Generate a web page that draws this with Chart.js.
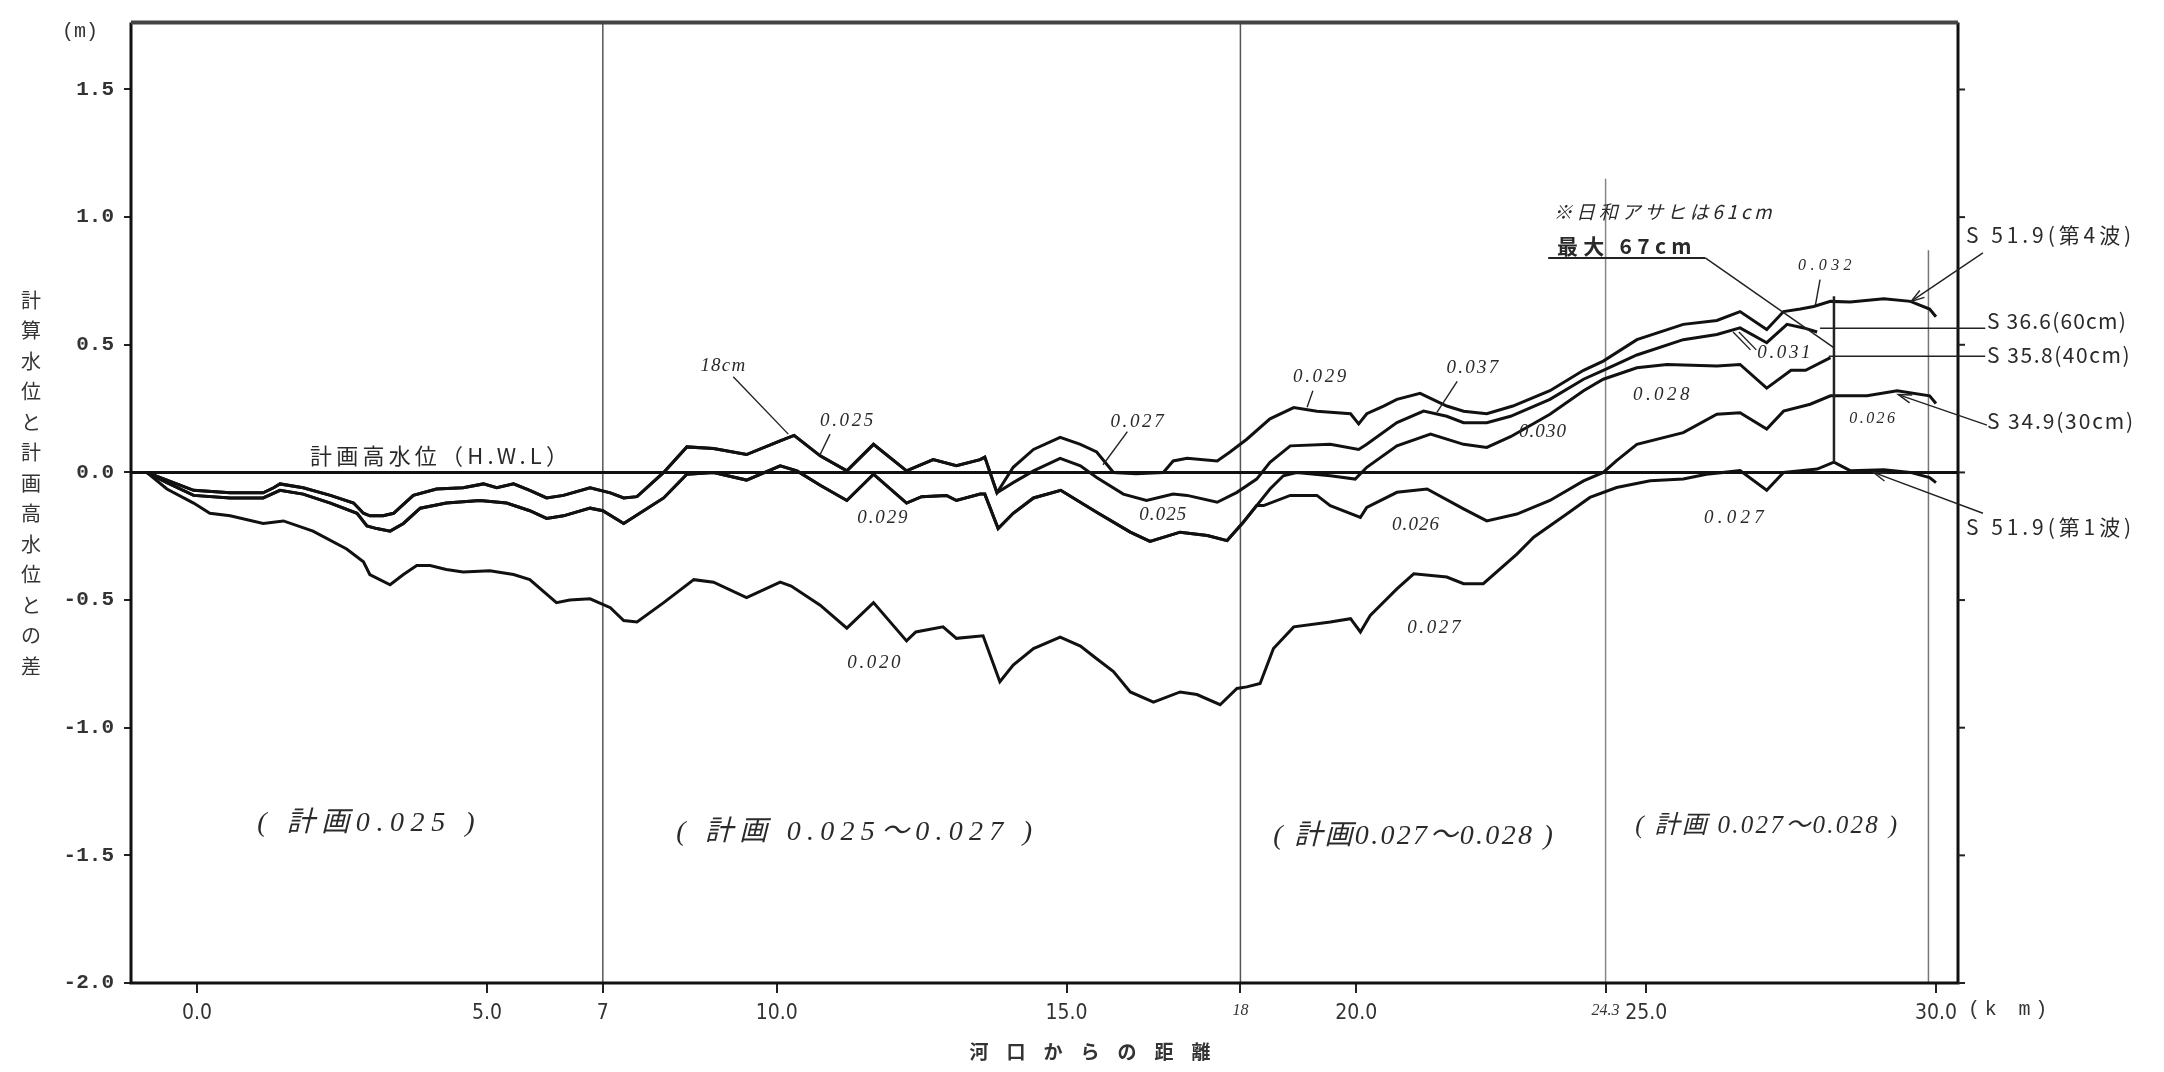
<!DOCTYPE html>
<html><head><meta charset="utf-8">
<script src="https://cdn.jsdelivr.net/npm/chart.js@4.4.1/dist/chart.umd.min.js"></script>
<style>html,body{margin:0;padding:0;background:#fff;}canvas{display:block;}</style>
</head><body>
<canvas id="c" width="2164" height="1072"></canvas>
<script>
// ---------------- DATA ----------------
const xTickValues = [0, 5, 7, 10, 15, 18, 20, 24.3, 25, 30];
const xTickLabels = ["0.0", "5.0", "7", "10.0", "15.0", "18", "20.0", "24.3", "25.0", "30.0"];
const yTickValues = [-2, -1.5, -1, -0.5, 0, 0.5, 1, 1.5];
const yTickLabels = ["-2.0", "-1.5", "-1.0", "-0.5", "0.0", "0.5", "1.0", "1.5"];
const seriesNames = ["S51.9(第4波)", "S36.6(60cm)", "S35.8(40cm)", "S34.9(30cm)", "S51.9(第1波)"];

// S51.9 (第4波)
const km4th = [-0.87,-0.52,-0.06,0.57,1.14,1.32,1.43,1.83,2.30,2.70,2.87,2.98,3.21,3.39,3.73,4.13,4.59,4.94,5.17,5.46,5.74,6.03,6.32,6.78,7.13,7.36,7.59,8.05,8.45,8.91,9.48,10.06,10.3,10.75,11.21,11.67,12.24,12.70,13.1,13.51,13.59,13.8,
  14.08,14.43,14.89,15.24,15.52,15.81,16.2,16.67,16.84,17.08,17.6,17.82,18.11,18.51,18.92,19.32,19.9,20.04,20.18,20.47,20.7,21.1,21.56,21.85,22.25,22.7,23.34,23.92,24.26,24.84,25.64,26.22,26.62,27.08,27.37,27.66,27.89,28.18,28.52,29.1,29.56,29.89,30.0];
const lv4th = [0,-0.03,-0.07,-0.08,-0.08,-0.06,-0.045,-0.06,-0.09,-0.12,-0.16,-0.17,-0.17,-0.16,-0.09,-0.065,-0.06,-0.045,-0.06,-0.045,-0.07,-0.10,-0.09,-0.06,-0.08,-0.10,-0.095,0.0,0.10,0.094,0.07,0.124,0.145,0.065,0.006,0.11,0.006,0.05,0.026,0.05,0.06,-0.08,
  0.02,0.09,0.137,0.11,0.08,0.0,-0.005,0.0,0.045,0.055,0.045,0.08,0.13,0.21,0.254,0.24,0.23,0.19,0.23,0.26,0.286,0.31,0.26,0.24,0.23,0.26,0.32,0.40,0.436,0.52,0.58,0.595,0.63,0.56,0.63,0.64,0.65,0.67,0.668,0.68,0.67,0.64,0.61];

// S36.6 (60cm)
const km60 = [-0.87,-0.52,-0.06,0.57,1.14,1.32,1.43,1.83,2.30,2.70,2.87,2.98,3.21,3.39,3.73,4.13,4.59,4.94,5.17,5.46,5.74,6.03,6.32,6.78,7.13,7.36,7.59,8.05,8.45,8.91,9.48,10.06,10.3,10.75,11.21,11.67,12.24,12.70,13.1,13.51,13.59,13.8,
  14.08,14.43,14.89,15.24,15.52,15.98,16.38,16.84,17.08,17.6,17.94,18.28,18.51,18.86,19.55,20.04,20.18,20.7,21.16,21.56,21.85,22.25,22.66,23.34,23.92,24.26,24.84,25.64,26.22,26.62,27.08,27.43,27.72,27.95];
const lv60 = [0,-0.03,-0.07,-0.08,-0.08,-0.06,-0.045,-0.06,-0.09,-0.12,-0.16,-0.17,-0.17,-0.16,-0.09,-0.065,-0.06,-0.045,-0.06,-0.045,-0.07,-0.10,-0.09,-0.06,-0.08,-0.10,-0.095,0.0,0.10,0.094,0.07,0.124,0.145,0.065,0.006,0.11,0.006,0.05,0.026,0.05,0.06,-0.08,
  -0.04,0.006,0.055,0.026,-0.02,-0.085,-0.11,-0.085,-0.09,-0.117,-0.078,-0.026,0.04,0.104,0.11,0.09,0.11,0.195,0.24,0.22,0.195,0.195,0.22,0.286,0.365,0.40,0.46,0.52,0.54,0.566,0.508,0.58,0.566,0.55];

// S35.8 (40cm)
const km40 = [-0.87,-0.52,-0.06,0.57,1.14,1.43,1.83,2.30,2.76,2.93,3.10,3.33,3.56,3.85,4.30,4.88,5.34,5.74,6.03,6.32,6.78,7.0,7.36,8.05,8.45,8.91,9.48,10.06,10.35,10.75,11.21,11.67,12.24,12.5,12.93,13.1,13.51,13.59,13.82,14.08,14.43,14.9,15.52,16.1,16.44,16.96,17.43,17.77,18.05,18.28,
  18.51,18.74,18.97,19.55,19.98,20.18,20.7,21.28,21.85,22.25,22.66,23.34,23.92,24.26,24.84,25.36,26.22,26.62,27.08,27.5,27.75,28.18];
const lv40 = [0,-0.04,-0.09,-0.10,-0.10,-0.07,-0.085,-0.12,-0.16,-0.21,-0.22,-0.23,-0.20,-0.14,-0.12,-0.11,-0.12,-0.15,-0.18,-0.17,-0.14,-0.15,-0.20,-0.10,-0.007,0.0,-0.03,0.026,0.006,-0.05,-0.11,-0.007,-0.12,-0.095,-0.09,-0.11,-0.085,-0.085,-0.22,-0.16,-0.10,-0.07,-0.156,-0.234,-0.27,-0.234,-0.247,-0.267,-0.195,-0.13,
  -0.065,-0.013,0.0,-0.013,-0.026,0.02,0.104,0.15,0.11,0.098,0.14,0.228,0.32,0.365,0.41,0.423,0.417,0.423,0.33,0.40,0.40,0.45];

// S34.9 (30cm)
const km30 = [-0.87,-0.52,-0.06,0.57,1.14,1.43,1.83,2.30,2.76,2.93,3.10,3.33,3.56,3.85,4.30,4.88,5.34,5.74,6.03,6.32,6.78,7.0,7.36,8.05,8.45,8.91,9.48,10.06,10.35,10.75,11.21,11.67,12.24,12.5,12.93,13.1,13.51,13.59,13.82,14.08,14.43,14.9,15.52,16.1,16.44,16.96,17.43,17.77,18.05,18.28,
  18.4,18.86,19.32,19.55,20.07,20.18,20.7,21.22,21.85,22.25,22.77,23.34,23.92,24.26,24.49,24.84,25.64,26.22,26.62,27.08,27.37,27.83,28.18,28.81,29.33,29.89,30.0];
const lv30 = [0,-0.04,-0.09,-0.10,-0.10,-0.07,-0.085,-0.12,-0.16,-0.21,-0.22,-0.23,-0.20,-0.14,-0.12,-0.11,-0.12,-0.15,-0.18,-0.17,-0.14,-0.15,-0.20,-0.10,-0.007,0.0,-0.03,0.026,0.006,-0.05,-0.11,-0.007,-0.12,-0.095,-0.09,-0.11,-0.085,-0.085,-0.22,-0.16,-0.10,-0.07,-0.156,-0.234,-0.27,-0.234,-0.247,-0.267,-0.195,-0.13,
  -0.13,-0.09,-0.09,-0.13,-0.176,-0.137,-0.078,-0.065,-0.143,-0.19,-0.163,-0.11,-0.033,0.0,0.046,0.11,0.156,0.228,0.234,0.17,0.24,0.267,0.30,0.30,0.32,0.30,0.27];

// S51.9 (第1波)
const km1st = [-0.87,-0.52,-0.06,0.22,0.57,1.14,1.49,2.0,2.58,2.87,2.98,3.33,3.56,3.79,4.02,4.3,4.59,5.05,5.46,5.74,6.2,6.43,6.78,7.13,7.36,7.59,8.05,8.57,8.91,9.48,10.06,10.25,10.75,11.21,11.67,12.24,12.4,12.87,13.1,13.56,13.85,14.08,14.43,14.89,15.24,15.52,15.81,16.1,16.5,16.96,17.25,17.65,17.94,18.11,18.34,18.57,18.92,19.55,19.9,20.07,20.24,20.7,20.99,21.56,21.85,22.19,22.77,23.06,23.63,24.03,24.49,25.07,25.64,26.04,26.62,27.08,27.37,27.66,27.95,28.24,28.52,29.1,29.56,29.89,30.0];
const lv1st = [0,-0.065,-0.12,-0.16,-0.17,-0.20,-0.19,-0.23,-0.30,-0.35,-0.40,-0.44,-0.40,-0.365,-0.365,-0.38,-0.39,-0.385,-0.40,-0.42,-0.51,-0.50,-0.495,-0.53,-0.58,-0.586,-0.51,-0.42,-0.43,-0.49,-0.43,-0.445,-0.52,-0.61,-0.51,-0.66,-0.625,-0.605,-0.65,-0.64,-0.82,-0.755,-0.69,-0.645,-0.68,-0.73,-0.78,-0.86,-0.90,-0.86,-0.87,-0.91,-0.846,-0.84,-0.827,-0.69,-0.605,-0.586,-0.573,-0.625,-0.56,-0.456,-0.397,-0.41,-0.436,-0.436,-0.32,-0.254,-0.163,-0.098,-0.059,-0.033,-0.026,-0.007,0.007,-0.07,0.0,0.007,0.013,0.04,0.007,0.01,0.0,-0.02,-0.04];

// 計画高水位 (H.W.L) reference line
const hwlKm = [-1.14, 30.45];
const hwlVal = [0, 0];

// ---------------- LAYOUT / ANNOTATIONS ----------------
const X_MIN = -1.14, X_MAX = 30.38, Y_MIN = -2.0, Y_MAX = 1.762;
const HAND = 'italic 19px "Liberation Serif", "DejaVu Serif", serif';
const notes = [
  {t:'計画高水位（H.W.L）', km:1.95, v:0.066, w:262, align:'left', font:'22px "Noto Sans CJK JP"'},
  {t:'18cm', km:9.08, v:0.418, w:46},
  {t:'0.025', km:11.23, v:0.20, w:56},
  {t:'0.029', km:11.84, v:-0.18, w:52},
  {t:'0.020', km:11.7, v:-0.746, w:56},
  {t:'0.027', km:16.24, v:0.199, w:56},
  {t:'0.025', km:16.67, v:-0.168, w:48},
  {t:'0.029', km:19.39, v:0.373, w:56},
  {t:'0.037', km:22.02, v:0.408, w:54},
  {t:'0.026', km:21.03, v:-0.207, w:48},
  {t:'0.027', km:21.36, v:-0.61, w:56},
  {t:'※日和アサヒは61cm', km:23.4, v:1.02, w:222, align:'left', font:'italic 19px "Noto Sans CJK JP"'},
  {t:'最大 67cm', km:23.46, v:0.885, w:140, align:'left', font:'bold 21px "Noto Sans CJK JP"'},
  {t:'0.032', km:28.12, v:0.81, w:58, font:'italic 16px "Liberation Serif"'},
  {t:'0.031', km:27.4, v:0.466, w:56},
  {t:'0.028', km:25.29, v:0.305, w:60},
  {t:'0.030', km:23.22, v:0.16, w:48},
  {t:'0.026', km:28.92, v:0.21, w:48, font:'italic 16px "Liberation Serif"'},
  {t:'0.027', km:26.55, v:-0.178, w:64},
  {t:'( 計画0.025 )', km:2.97, v:-1.377, w:224, font:'italic 28px "Liberation Serif", "Noto Sans CJK JP"'},
  {t:'( 計画 0.025～0.027 )', km:11.39, v:-1.41, w:362, font:'italic 28px "Liberation Serif", "Noto Sans CJK JP"'},
  {t:'( 計画0.027～0.028 )', km:21.0, v:-1.426, w:282, font:'italic 28px "Liberation Serif", "Noto Sans CJK JP"'},
  {t:'( 計画 0.027～0.028 )', km:27.09, v:-1.388, w:264, font:'italic 25px "Liberation Serif", "Noto Sans CJK JP"'},
  {t:'S 51.9(第4波)', km:30.52, v:0.93, w:169, align:'left', font:'21px "Noto Sans CJK JP"'},
  {t:'S 36.6(60cm)', km:30.88, v:0.595, w:140, align:'left', font:'21px "Noto Sans CJK JP"'},
  {t:'S 35.8(40cm)', km:30.88, v:0.459, w:144, align:'left', font:'21px "Noto Sans CJK JP"'},
  {t:'S 34.9(30cm)', km:30.88, v:0.20, w:148, align:'left', font:'21px "Noto Sans CJK JP"'},
  {t:'S 51.9(第1波)', km:30.52, v:-0.215, w:169, align:'left', font:'21px "Noto Sans CJK JP"'}
];
const leaders = [
  {a:[9.25,0.375,10.2,0.15]},
  {a:[10.92,0.15,10.75,0.07]},
  {a:[16.05,0.16,15.63,0.03]},
  {a:[19.25,0.32,19.15,0.255]},
  {a:[21.74,0.357,21.39,0.235]},
  {a:[28.0,0.755,27.92,0.655]},
  {a:[26.5,0.55,26.8,0.48]},
  {a:[26.6,0.55,26.9,0.48]},
  {a:[23.31,0.84,26.02,0.84], w:2},
  {a:[26.02,0.84,28.23,0.49], w:1.5},
  {a:[28.24,0.04,28.24,0.69], w:2.5},
  {a:[30.81,0.86,29.57,0.67], arrow:true},
  {a:[28.0,0.565,30.85,0.565]},
  {a:[28.15,0.455,30.85,0.455]},
  {a:[30.88,0.185,29.35,0.305], arrow:true},
  {a:[30.81,-0.16,28.92,0.0], arrow:true}
];
const refLines = [
  {km:7, from:Y_MAX, to:Y_MIN, c:'#555'},
  {km:18, from:Y_MAX, to:Y_MIN, c:'#555'},
  {km:24.3, from:1.15, to:Y_MIN, c:'#888'},
  {km:29.87, from:0.87, to:Y_MIN, c:'#777'}
];

function pts(xs, ys) { return xs.map((x, i) => ({x: x, y: ys[i]})); }

function fitText(ctx, s, x, y, w, align) {
  ctx.letterSpacing = '0px';
  const nat = ctx.measureText(s).width;
  let sp = (w - nat) / s.length;
  if (sp < 0) sp = 0;
  ctx.letterSpacing = sp.toFixed(2) + 'px';
  ctx.textAlign = 'left';
  const left = align === 'left' ? x : x - w / 2;
  ctx.fillText(s, left, y);
  ctx.letterSpacing = '0px';
}

const annot = {
  id: 'annot',
  beforeDatasetsDraw(chart) {
    const ctx = chart.ctx, xs = chart.scales.x, ys = chart.scales.y;
    ctx.save();
    refLines.forEach(r => {
      ctx.strokeStyle = r.c; ctx.lineWidth = 1.5;
      ctx.beginPath();
      const px = xs.getPixelForValue(r.km);
      ctx.moveTo(px, ys.getPixelForValue(r.from));
      ctx.lineTo(px, ys.getPixelForValue(r.to));
      ctx.stroke();
    });
    ctx.restore();
  },
  afterDraw(chart) {
    const ctx = chart.ctx, xs = chart.scales.x, ys = chart.scales.y, ca = chart.chartArea;
    ctx.save();
    // frame
    ctx.strokeStyle = '#111';
    ctx.lineWidth = 3;
    ctx.beginPath(); ctx.moveTo(ca.left, ca.top); ctx.lineTo(ca.left, ca.bottom); ctx.lineTo(ca.right, ca.bottom); ctx.lineTo(ca.right, ca.top); ctx.stroke();
    ctx.strokeStyle = '#444'; ctx.lineWidth = 4;
    ctx.beginPath(); ctx.moveTo(ca.left, ca.top); ctx.lineTo(ca.right, ca.top); ctx.stroke();
    // right ticks
    ctx.strokeStyle = '#222'; ctx.lineWidth = 2;
    yTickValues.forEach(v => {
      const py = ys.getPixelForValue(v);
      ctx.beginPath(); ctx.moveTo(ca.right, py); ctx.lineTo(ca.right + 7, py); ctx.stroke();
    });
    // leaders
    leaders.forEach(l => {
      const [k1, v1, k2, v2] = l.a;
      const x1 = xs.getPixelForValue(k1), y1 = ys.getPixelForValue(v1);
      const x2 = xs.getPixelForValue(k2), y2 = ys.getPixelForValue(v2);
      ctx.strokeStyle = '#222'; ctx.lineWidth = l.w || 1.4;
      ctx.beginPath(); ctx.moveTo(x1, y1); ctx.lineTo(x2, y2); ctx.stroke();
      if (l.arrow) {
        const ang = Math.atan2(y2 - y1, x2 - x1), L = 14;
        ctx.beginPath();
        ctx.moveTo(x2 - L * Math.cos(ang - 0.3), y2 - L * Math.sin(ang - 0.3));
        ctx.lineTo(x2, y2);
        ctx.lineTo(x2 - L * Math.cos(ang + 0.3), y2 - L * Math.sin(ang + 0.3));
        ctx.stroke();
      }
    });
    // notes
    ctx.fillStyle = '#2a2a2a';
    ctx.textBaseline = 'middle';
    notes.forEach(n => {
      ctx.font = n.font || HAND;
      fitText(ctx, n.t, xs.getPixelForValue(n.km), ys.getPixelForValue(n.v), n.w, n.align || 'center');
    });
    // axis titles
    ctx.fillStyle = '#333';
    ctx.font = '20px "Noto Sans CJK JP"';
    ctx.textAlign = 'center';
    const yTitle = '計算水位と計画高水位との差';
    [...yTitle].forEach((ch, i) => ctx.fillText(ch, 31, 300 + i * 30.5));
    ctx.font = 'bold 19px "Noto Sans CJK JP"';
    const xTitle = '河口からの距離';
    [...xTitle].forEach((ch, i) => ctx.fillText(ch, 1090 + (i - 3) * 37, 1052));
    ctx.font = '20px "Liberation Mono", "DejaVu Sans Mono", monospace';
    ctx.fillText('(m)', 80, 32);
    fitText(ctx, '(k m)', 1968, 1010, 84, 'left');
    ctx.restore();
  }
};

const lineStyle = {borderColor:'#111', borderWidth:3, pointRadius:0, tension:0, fill:false};
const series = [[km4th, lv4th], [km60, lv60], [km40, lv40], [km30, lv30], [km1st, lv1st]];
const datasets = series.map((s, i) => Object.assign({label: seriesNames[i], data: pts(s[0], s[1])}, lineStyle));
datasets.push({label:'計画高水位 (H.W.L)', data: pts(hwlKm, hwlVal), borderColor:'#111', borderWidth:3, pointRadius:0, fill:false});

const narrow = {family:'"Liberation Sans Narrow", "DejaVu Sans Condensed", "Liberation Sans", sans-serif', size:21};
const handTick = {family:'"Liberation Serif", serif', size:16, style:'italic'};

new Chart(document.getElementById('c').getContext('2d'), {
  type: 'line',
  data: {datasets: datasets},
  options: {
    responsive: false, animation: false, devicePixelRatio: 1,
    layout: {padding: {left: 0, right: 206, top: 20, bottom: 0}},
    plugins: {legend: {display: false}, tooltip: {enabled: false}, title: {display: false}},
    scales: {
      x: {
        type: 'linear', min: X_MIN, max: X_MAX,
        afterBuildTicks: (s) => { s.ticks = xTickValues.map(v => ({value: v})); },
        afterFit: (s) => { s.height = 89; },
        ticks: {
          autoSkip: false, maxRotation: 0, minRotation: 0, padding: 8, color: '#333',
          font: (c) => (c.tick && (c.tick.value === 18 || c.tick.value === 24.3)) ? handTick : narrow,
          callback: (v) => { const i = xTickValues.indexOf(v); return i >= 0 ? xTickLabels[i] : ''; }
        },
        grid: {drawOnChartArea: false, drawTicks: true, tickLength: 10, color: '#222', lineWidth: 2},
        border: {display: false}
      },
      y: {
        min: Y_MIN, max: Y_MAX,
        afterBuildTicks: (s) => { s.ticks = yTickValues.map(v => ({value: v})); },
        afterFit: (s) => { s.width = 131; },
        ticks: {
          padding: 10, color: '#333',
          font: {family: '"Liberation Mono", "DejaVu Sans Mono", monospace', size: 21, weight: 'bold'},
          callback: (v) => { const i = yTickValues.indexOf(v); return i >= 0 ? yTickLabels[i] : ''; }
        },
        grid: {drawOnChartArea: false, drawTicks: true, tickLength: 7, color: '#222', lineWidth: 2},
        border: {display: false}
      }
    }
  },
  plugins: [annot]
});
</script>
</body></html>
